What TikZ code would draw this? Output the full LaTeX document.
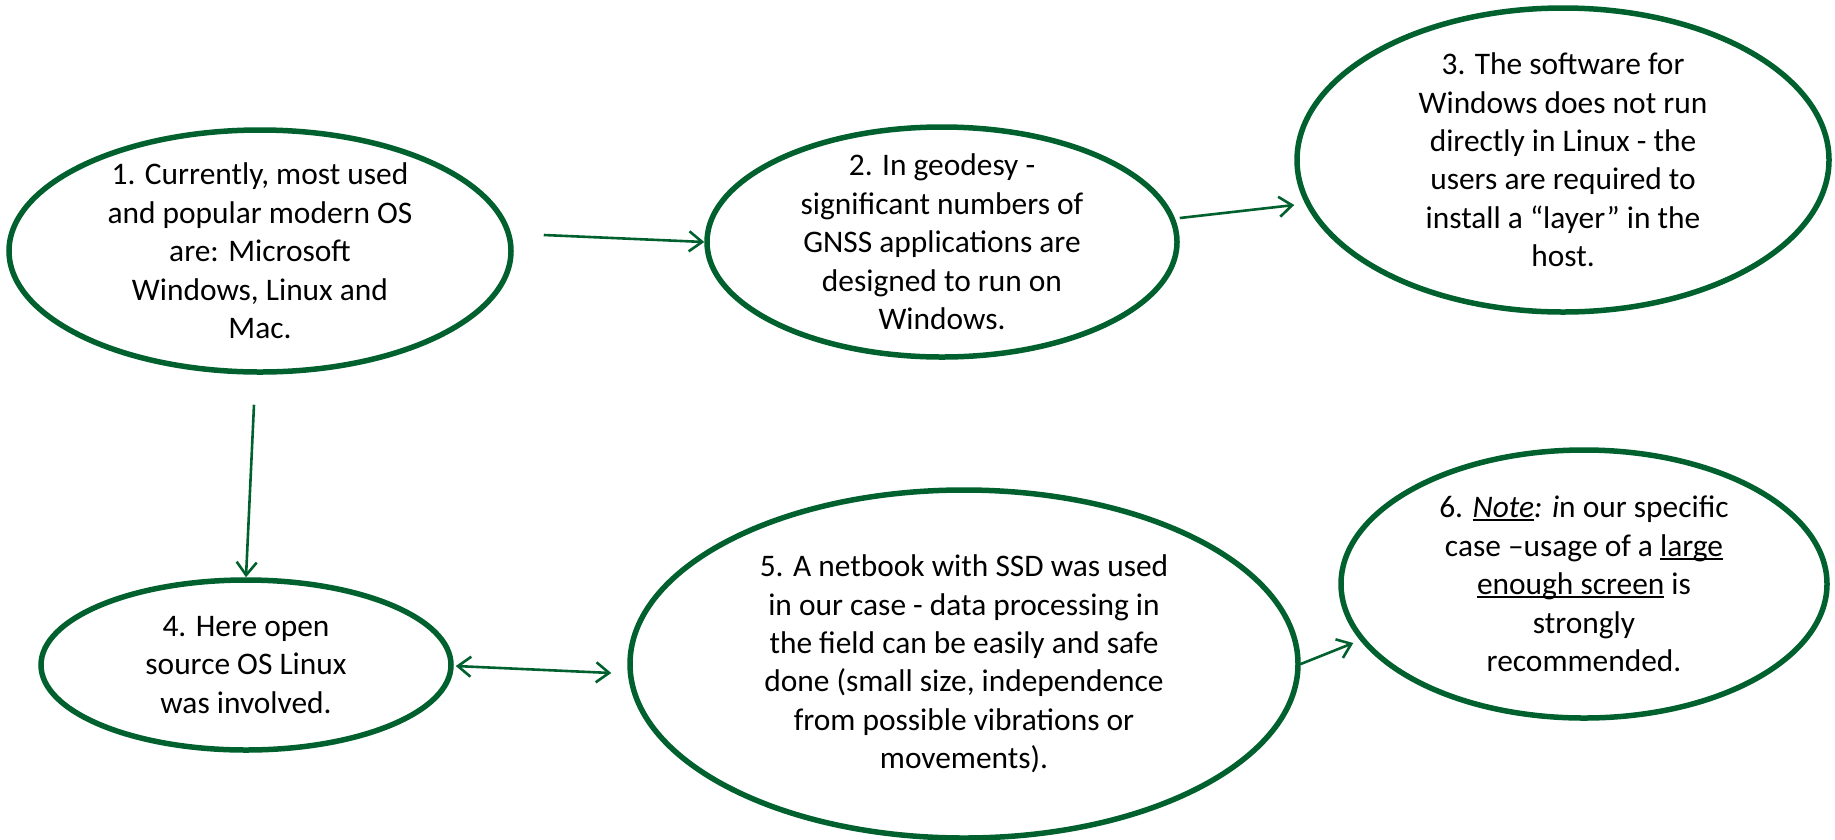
\documentclass[tikz,border=0pt]{standalone}
\usepackage{fontspec}
\setmainfont{Carlito}
\newcommand{\myul}[1]{\setbox0\hbox{#1}\rlap{\rule[-3.5pt]{\wd0}{2pt}}\box0\relax}
\usetikzlibrary{shapes.geometric,arrows.meta,calc}
\definecolor{dgreen}{RGB}{0,97,46}
\tikzset{
  oval/.style={ellipse, draw=dgreen, line width=5.5pt, inner sep=0pt, minimum width=#1},
  ovaltext/.style={align=center, text=black, inner sep=0pt, font=\fontsize{31.4}{38.4}\selectfont},
  conn/.style={draw=dgreen, line width=2.6pt, -{Straight Barb[length=13pt,width=20pt,line width=2.6pt]}},
  conn2/.style={draw=dgreen, line width=2.6pt, {Straight Barb[length=13pt,width=20pt,line width=2.6pt]}-{Straight Barb[length=13pt,width=20pt,line width=2.6pt]}}
}
\begin{document}
\begin{tikzpicture}[x=1pt,y=-1pt]
\useasboundingbox[fill=white] (0,0) rectangle (1835,839);

\node[oval=502pt, minimum height=242pt] (e1) at (260,251) {};
\node[oval=470pt, minimum height=230pt] (e2) at (942,242) {};
\node[oval=532pt, minimum height=304pt] (e3) at (1563,160) {};
\node[oval=410pt, minimum height=170pt] (e4) at (246,665) {};
\node[oval=668pt, minimum height=348pt] (e5) at (964,664) {};
\node[oval=486pt, minimum height=268pt] (e6) at (1584,584) {};

\node[ovaltext] (t1) at (e1) {1. Currently, most used\\and popular modern OS\\are: Microsoft\\Windows, Linux and\\Mac.};
\node[ovaltext] (t2) at (e2) {2. In geodesy -\\significant numbers of\\GNSS applications are\\designed to run on\\Windows.};
\node[ovaltext] (t3) at (e3) {3. The software for\\Windows does not run\\directly in Linux - the\\users are required to\\install a “layer” in the\\host.};
\node[ovaltext] (t4) at (e4) {4. Here open\\source OS Linux\\was involved.};
\node[ovaltext] (t5) at (e5) {5. A netbook with SSD was used\\in our case - data processing in\\the field can be easily and safe\\done (small size, independence\\from possible vibrations or\\movements).};
\node[ovaltext] (t6) at (e6) {6. \myul{\textit{Note}}\textit{: i}n our specific\\case –usage of a \myul{large}\\\myul{enough screen} is\\strongly\\recommended.};

\coordinate (s12) at ($(e1.east)+(30,-16)$);
\coordinate (s23) at ($(e2.east)+(0,-24)$);
\coordinate (f23) at ($(e3.west)+(0,45)$);
\coordinate (s14) at ($(e1.south)+(-6,30)$);
\coordinate (s45) at ($(e4.east)+(2,1)$);
\coordinate (f45) at ($(e5.west)+(-16,9)$);
\coordinate (f56) at ($(e6.west)+(15,59)$);

\draw[conn] (s12) -- (e2.west);
\draw[conn] (s23) -- (f23);
\draw[conn] (s14) -- (e4.north);
\draw[conn2] (s45) -- (f45);
\draw[conn] (e5.east) -- (f56);
\end{tikzpicture}
\end{document}
